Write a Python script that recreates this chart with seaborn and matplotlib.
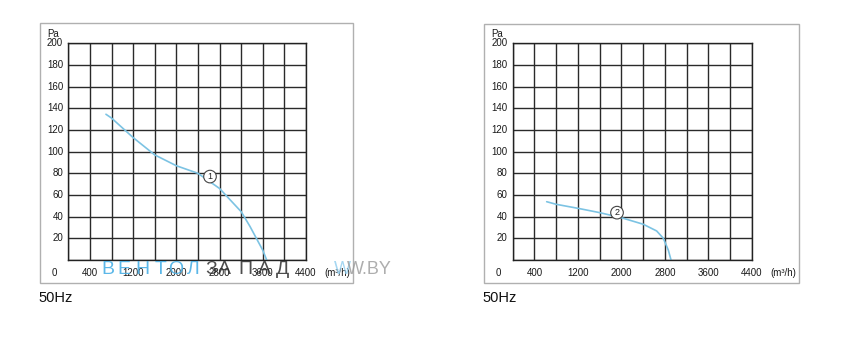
import matplotlib
matplotlib.use("Agg")
import matplotlib.pyplot as plt
import seaborn as sns
import pandas as pd
from matplotlib.patches import Rectangle

sns.set_theme(style="white")
plt.rcParams['font.family'] = ['Liberation Sans', 'DejaVu Sans']

# Data (flow m3/h, pressure Pa)
flow1 = [697, 800, 1200, 1600, 2000, 2400, 2800, 3200, 3363, 3600, 3672]
pres1 = [134.5, 131, 113, 97, 87, 80, 66, 44.6, 31, 9, 0]
flow2 = [625, 800, 1200, 1600, 2000, 2400, 2647, 2770, 2862, 2911]
pres2 = [53.8, 51.4, 47.7, 43.7, 39, 33, 26.8, 20, 9, 0]

x_ticks = [400, 1200, 2000, 2800, 3600, 4400]
y_ticks = [20, 40, 60, 80, 100, 120, 140, 160, 180, 200]
curve_labels = ["1", "2"]
label_pos = [(2623, 77), (1918, 43.7)]

# watermark text pieces
wm_blue = ["В", "Е", "Н", "Т", "О", "Л"]
wm_dark = ["З", "А", "П", "А", "Д"]
wm_site = "W.BY"

W, H = 842, 346
fig = plt.figure(figsize=(W / 100, H / 100), dpi=100)

def fx(px):
    return px / W

def fy(py):
    return 1 - py / H

axes_px = [(68.3, 306.0), (512.7, 752.0)]
boxes_px = [(40, 23, 353, 283), (484, 24, 799, 283)]
data = [(flow1, pres1), (flow2, pres2)]
curve_color = '#7cc3e3'
tick_fs = 7

for i, ((l, r), (bx0, by0, bx1, by1), (fl, pr)) in enumerate(zip(axes_px, boxes_px, data)):
    # outer frame
    fig.patches.append(Rectangle((fx(bx0), fy(by1)), fx(bx1) - fx(bx0), fy(by0) - fy(by1),
                                 transform=fig.transFigure, fill=False,
                                 edgecolor='#b0b0b0', linewidth=1.0))
    ax = fig.add_axes([fx(l), fy(260), fx(r) - fx(l), fy(43.3) - fy(260)])
    ax.set_xlim(0, 4400)
    ax.set_ylim(0, 200)
    ax.set_xticks(range(0, 4401, 400), minor=False)
    ax.set_yticks(range(0, 201, 20))
    ax.grid(True, color='#2a2a2a', linewidth=1.0)
    ax.set_xticklabels([])
    ax.set_yticklabels([])
    ax.tick_params(length=0)
    for s in ax.spines.values():
        s.set_color('#222222')
        s.set_linewidth(1.0)
    df = pd.DataFrame({'flow': fl, 'pres': pr})
    sns.lineplot(data=df, x='flow', y='pres', sort=False, ax=ax, color=curve_color,
                 linewidth=1.2, estimator=None)
    ax.set_xlabel('')
    ax.set_ylabel('')
    # tick labels
    for yv in y_ticks:
        ax.text(-0.022, yv / 200, str(yv), transform=ax.transAxes, ha='right', va='center',
                fontsize=tick_fs, color='#1a1a1a')
    for xv in x_ticks:
        ax.text(xv / 4400, -0.06, str(xv), transform=ax.transAxes, ha='center', va='center',
                fontsize=tick_fs, color='#1a1a1a')
    ax.text(-0.06, -0.06, "0", transform=ax.transAxes, ha='center', va='center',
            fontsize=tick_fs, color='#1a1a1a')
    ax.text(-0.065, 1.045, "Pa", transform=ax.transAxes, ha='center', va='center',
            fontsize=tick_fs, color='#1a1a1a')
    ax.text(1.13, -0.06, "(m³/h)", transform=ax.transAxes, ha='center', va='center',
            fontsize=tick_fs, color='#1a1a1a')
    lx, ly = label_pos[i]
    ax.text(lx, ly, curve_labels[i], ha='center', va='center', fontsize=6.5, color='#222222',
            bbox=dict(boxstyle='circle,pad=0.2', fc='white', ec='#444444', lw=0.8))
    fig.text(fx(bx0 - 2), fy(298), "50Hz", ha='left', va='center', fontsize=10.5, color='#111111')

# watermark (letter by letter)
wm_y = fy(269.5)
blue_x = [108, 124, 142, 161, 176, 193]
dark_x = [211, 224, 245, 264, 283]
for ch, px in zip(wm_blue, blue_x):
    fig.text(fx(px), wm_y, ch, ha='center', va='center', fontsize=14,
             color='#4ab0e6', alpha=0.9)
for ch, px in zip(wm_dark, dark_x):
    fig.text(fx(px), wm_y, ch, ha='center', va='center', fontsize=14,
             color='#2e2e2e', alpha=0.85)
fig.text(fx(342), wm_y, "W", ha='center', va='center', fontsize=13,
         color='#8fcdef', alpha=0.8)
fig.text(fx(347), wm_y, wm_site, ha='left', va='center', fontsize=13,
         color='#9a9a9a', alpha=0.8)

fig.savefig("out.png", dpi=100)
